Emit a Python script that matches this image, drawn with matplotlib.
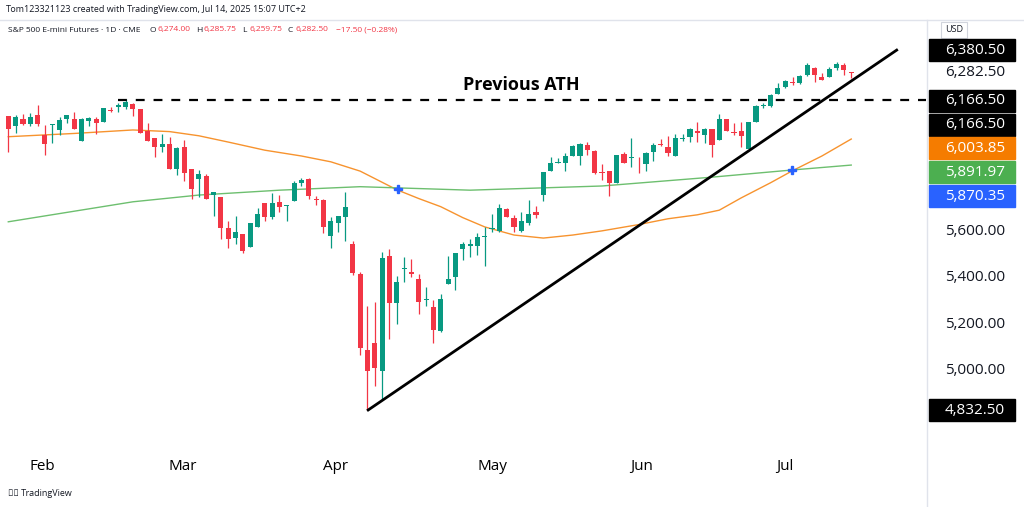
import matplotlib
matplotlib.use("Agg")
import matplotlib.pyplot as plt
from matplotlib.patches import Rectangle

plt.rcParams["font.family"] = "Open Sans"

opens = [6097,6054,6083,6063,6101,6015,6059,6037,6083,6083,5988,6077,6083,6073,6125,6134,6137,6149,6127,6034,
         6001,5962,5977,5868,5962,5868,5825,5839,5757,5747,5614,5572,5590,5535,5618,5724,5661,5727,5709,5733,
         5808,5825,5738,5736,5583,5635,5664,5545,5416,5090,5119,5000,5495,5291,5438,5424,5396,5305,5277,5173,
         5374,5403,5523,5538,5538,5575,5609,5604,5697,5659,5602,5635,5682,5757,5862,5896,5897,5926,5926,5972,
         5946,5856,5862,5811,5933,5918,5908,5890,5943,5976,5965,5925,5999,6008,6034,6015,6039,5993,6084,6028,
         6032,5955,6072,6140,6140,6191,6220,6244,6240,6273,6302,6266,6266,6302,6316,6285]
highs = [6097,6101,6106,6109,6144,6058,6063,6094,6101,6116,6087,6091,6091,6130,6134,6152,6169,6155,6127,6066,
         6001,6020,6008,5965,5994,5868,5865,5848,5770,5747,5647,5669,5590,5636,5703,5724,5765,5757,5713,5819,
         5829,5829,5753,5739,5664,5667,5772,5559,5427,5280,5298,5513,5523,5409,5492,5480,5417,5363,5305,5331,
         5495,5509,5556,5570,5592,5621,5675,5718,5700,5671,5685,5735,5710,5857,5922,5915,5936,5972,5979,5986,
         5950,5890,5862,5929,5943,6001,5922,5943,5982,5996,6011,6019,6018,6044,6072,6044,6039,6105,6084,6065,
         6072,6072,6144,6154,6191,6237,6254,6263,6273,6326,6309,6280,6306,6329,6323,6286]
lows = [5944,6023,6058,6054,6054,5929,5982,6015,6066,6040,5988,6054,6020,6073,6116,6116,6126,6097,6023,5991,
        5919,5944,5868,5843,5819,5739,5750,5739,5667,5567,5528,5547,5507,5535,5618,5647,5653,5686,5647,5733,
        5796,5739,5714,5595,5528,5600,5561,5413,5069,4832,4935,4875,5140,5202,5384,5406,5245,5280,5122,5169,
        5374,5348,5477,5489,5499,5452,5599,5599,5661,5599,5599,5628,5657,5731,5862,5896,5862,5926,5886,5929,
        5848,5821,5753,5811,5893,5879,5850,5862,5905,5968,5925,5925,5990,5986,5986,5982,5922,5993,6034,6015,
        5962,5955,6072,6130,6137,6191,6216,6230,6233,6269,6244,6252,6263,6297,6273,6260]
closes = [6040,6091,6061,6094,6061,5977,6063,6080,6101,6043,6083,6087,6066,6130,6120,6144,6159,6127,6023,5991,
          5962,5977,5868,5958,5853,5782,5846,5739,5770,5614,5568,5600,5518,5636,5674,5661,5724,5707,5713,5808,
          5822,5753,5735,5618,5647,5667,5707,5423,5100,4999,5011,5485,5294,5384,5445,5417,5298,5310,5176,5308,
          5394,5506,5545,5545,5578,5581,5616,5700,5664,5621,5645,5675,5671,5857,5896,5900,5926,5968,5976,5950,
          5854,5853,5810,5929,5896,5919,5906,5939,5972,5972,5939,6001,6004,6039,6022,6041,5972,6084,6034,6025,
          6011,6072,6140,6143,6187,6216,6249,6237,6269,6316,6273,6254,6299,6320,6294,6282]

ma50_idx = [0, 9, 17, 22, 26, 30, 35, 40, 44, 48, 53, 56, 59, 62, 65, 69, 73, 77, 81, 86, 90, 94, 97, 100, 104, 107, 111, 115]
ma50_val = [6008, 6022, 6037, 6030, 6012, 5985, 5950, 5925, 5900, 5860, 5780, 5742, 5707, 5660, 5620, 5585, 5572, 5585,
            5603, 5630, 5655, 5672, 5692, 5745, 5810, 5862, 5925, 5998]
ma200_idx = [0, 17, 26, 37, 48, 63, 81, 96, 107, 115]
ma200_val = [5642, 5728, 5757, 5778, 5793, 5778, 5796, 5834, 5865, 5886]

month_labels = ["Feb", "Mar", "Apr", "May", "Jun", "Jul"]
month_pos = [4.6, 23.8, 44.7, 66.0, 86.4, 105.9]
price_ticks = [5000, 5200, 5400, 5600]
ath = 6166.5
trend_idx = [49.1, 121.2]
trend_val = [4832.5, 6380.5]
cross_idx = [53.2, 106.9]
cross_val = [5783, 5865]

UP, DN = "#089981", "#F23645"
W, H = 1024, 507
fig = plt.figure(figsize=(W/100, H/100), dpi=100)
ax = fig.add_axes([0, (H-448)/H, 926/W, 428/H])
for i, (o, h, l, c) in enumerate(zip(opens, highs, lows, closes)):
    col = UP if c >= o else DN
    ax.plot([i, i], [l, h], color=col, lw=0.9, solid_capstyle="butt", zorder=3)
    lo, hi = min(o, c), max(o, c)
    ax.add_patch(Rectangle((i-0.35, lo), 0.7, max(hi-lo, 2.5), color=col, zorder=4, lw=0))
ax.plot(ma50_idx, ma50_val, color="#F7932E", lw=1, zorder=2)
ax.plot(ma200_idx, ma200_val, color="#6DBF6F", lw=1, zorder=2)
ax.plot([15, 125.5], [ath, ath], color="black", lw=1.6, ls=(0, (4, 4)), zorder=5)
ax.text(70, 6230, "Previous ATH", fontsize=13, fontweight="bold", ha="center", va="center", zorder=6)
ax.plot(trend_idx, trend_val, color="black", lw=2, zorder=6)
ax.plot(cross_idx, cross_val, "P", color="#2962FF", ms=6, zorder=7)
ax.set_xlim(-1.13, 125.2)
ax.set_ylim(4669, 6510)
ax.set_xticks(month_pos)
ax.set_xticklabels(month_labels, fontsize=11)
ax.tick_params(axis="x", length=0, pad=8)
ax.set_yticks([])
for s in ax.spines.values():
    s.set_visible(False)

fig.add_artist(plt.Line2D([927/W, 927/W], [0, (H-20)/H], color="#E0E3EB", lw=1))
fig.add_artist(plt.Line2D([0, 1], [(H-20)/H, (H-20)/H], color="#E0E3EB", lw=1))

def fy(p):
    return (H - p)/H

def lab(y, text, bg=None, fg="#131722"):
    if bg:
        fig.add_artist(Rectangle((929/W, fy(y+11)), 86/W, 22/H, color=bg, zorder=5))
        fg = "white"
    fig.text(975/W, fy(y), text, fontsize=11, ha="center", va="center", color=fg, zorder=6)

for p in price_ticks:
    y = 371 - (p - 5000)/4.301
    lab(y, f"{p:,.2f}")
lab(73, "6,282.50")
lab(50, "6,380.50", "#000000")
lab(101, "6,166.50", "#000000")
lab(125, "6,166.50", "#000000")
lab(148, "6,003.85", "#F57C00")
lab(172, "5,891.97", "#4CAF50")
lab(196, "5,870.35", "#2962FF")
lab(410, "4,832.50", "#000000")
fig.text(945/W, fy(30), "USD", fontsize=6.5, color="#131722", va="center",
         bbox=dict(boxstyle="square,pad=0.4", fc="white", ec="#D1D4DC", lw=0.8))

fig.text(6/W, fy(10), "Tom123321123 created with TradingView.com, Jul 14, 2025 15:07 UTC+2",
         fontsize=6.5, color="#131722", va="center")
fig.text(8/W, fy(30), "S&P 500 E-mini Futures · 1D · CME", fontsize=6, color="#131722", va="center")
hdr = [("O", "6,274.00"), ("H", "6,285.75"), ("L", "6,259.75"), ("C", "6,282.50")]
x0 = 150
for k, v in hdr:
    fig.text(x0/W, fy(30), k, fontsize=6, color="#131722", va="center")
    fig.text((x0+7)/W, fy(30), v, fontsize=6, color=DN, va="center")
    x0 += 46
fig.text((x0+2)/W, fy(30), "−17.50 (−0.28%)", fontsize=6, color=DN, va="center")
fig.text(8/W, fy(494), "◢◣ TradingView", fontsize=6.5, color="#131722", va="center")

fig.savefig("out.png", dpi=100, facecolor="white")
